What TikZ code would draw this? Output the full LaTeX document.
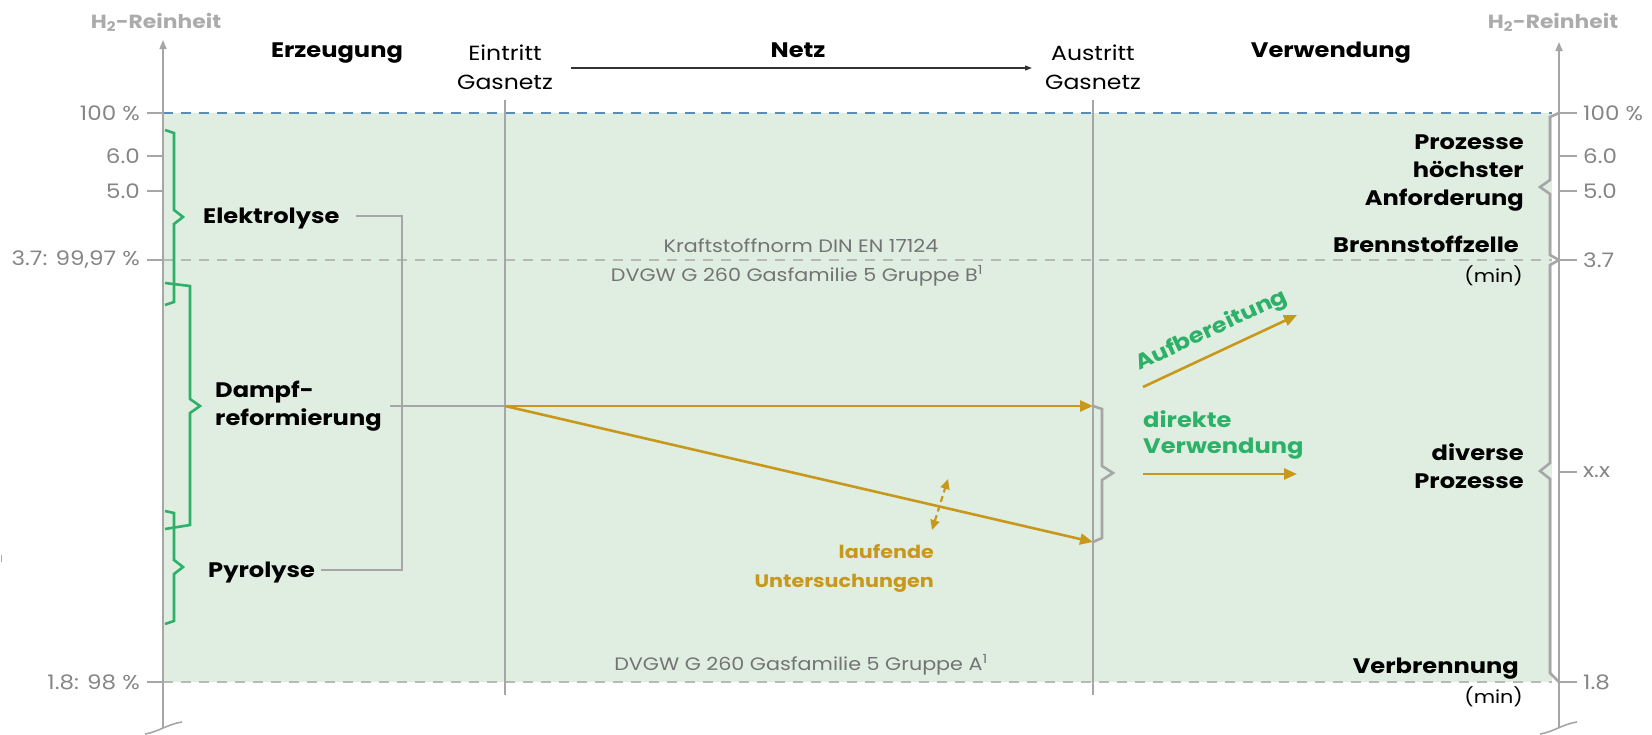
\documentclass[tikz,border=0pt]{standalone}
\usepackage{fontspec}
\setmainfont{Poppins}[FakeStretch=1.15]
\usetikzlibrary{arrows.meta}
\definecolor{zonegreen}{HTML}{E0EEE1}
\definecolor{bracegreen}{HTML}{2DB068}
\definecolor{flowgold}{HTML}{C8981C}
\definecolor{axisgray}{HTML}{A6A6A6}
\definecolor{ticktext}{HTML}{858585}
\definecolor{normtext}{HTML}{737373}
\definecolor{dashgray}{HTML}{B8B8B8}
\definecolor{topblue}{HTML}{5A8DB5}
\definecolor{titlegray}{HTML}{ABABAB}
\tikzset{
  axisline/.style={axisgray, line width=1.6},
  tickline/.style={axisgray, line width=1.4},
  levelline/.style={dashgray, line width=1.8, dash pattern=on 10pt off 8pt},
  gasline/.style={axisgray, line width=1.5},
  linkline/.style={axisgray, line width=1.4},
  greenbrace/.style={bracegreen, line width=2.6, line join=miter},
  graybrace/.style={axisgray, line width=2.6, line join=miter},
  flow/.style={flowgold, line width=2.6, -{Triangle[length=13pt, width=11pt]}},
  axistitle/.style={titlegray, font=\bfseries\fontsize{19}{22}\selectfont},
  ticklabel/.style={ticktext, font=\fontsize{20}{24}\selectfont, inner sep=0pt},
  colhead/.style={font=\bfseries\fontsize{21}{24}\selectfont, inner sep=0pt},
  gashead/.style={font=\fontsize{20.5}{29}\selectfont, align=center, inner sep=0pt},
  process/.style={font=\bfseries\fontsize{21}{28}\selectfont, inner sep=0pt},
  normlabel/.style={normtext, font=\fontsize{18}{20}\selectfont, inner sep=0pt},
  greenlabel/.style={bracegreen, font=\bfseries\fontsize{21}{26}\selectfont, inner sep=0pt},
  minlabel/.style={font=\fontsize{18}{22}\selectfont, inner sep=0pt},
}
\begin{document}
\begin{tikzpicture}[x=1pt, y=-1pt]
\useasboundingbox (0,0) rectangle (1652,734);

% purity band between 100 % and 1.8
\fill[zonegreen] (163,113) rectangle (1552,682);

% reference coordinates
\coordinate (Lbot) at (163,728);
\coordinate (Ltop) at (163,40);
\coordinate (Rbot) at (1559,728);
\coordinate (Rtop) at (1559,42);
\coordinate (inTop) at (505,100);
\coordinate (inBot) at (505,695);
\coordinate (outTop) at (1093,100);
\coordinate (outBot) at (1093,695);
\coordinate (inPt) at (505,406);
\coordinate (outHi) at (1093,406);
\coordinate (outLo) at (1093,542);

% level lines
\draw[topblue, line width=1.8, dash pattern=on 10pt off 8pt] (163,113) -- (1552,113);
\draw[levelline] (163,260) -- (1552,260);
\draw[levelline] (163,682) -- (1552,682);

% axes
\draw[axisline, -{Triangle[length=9pt, width=7pt]}] (Lbot) -- (Ltop);
\draw[axisline, -{Triangle[length=9pt, width=7pt]}] (Rbot) -- (Rtop);
\draw[axisline] (145,734) .. controls (158,732) and (168,724) .. (182,722);
\draw[axisline] (1540,734) .. controls (1553,732) and (1563,724) .. (1577,722);
\draw[axisgray, line width=1] (1,555) -- (1,562);

\node[axistitle, anchor=base] (titleL) at (156,28) {H\textsubscript{2}-Reinheit};
\node[axistitle, anchor=base] (titleR) at (1553,28) {H\textsubscript{2}-Reinheit};

% left scale
\foreach \yy/\txt/\nm in {113/100 \%/a, 156/6.0/b, 191/5.0/c, 260/{3.7: 99,97 \%}/d, 682/{1.8: 98 \%}/e}{
  \draw[tickline] (147,\yy) -- (163,\yy);
  \node[ticklabel, anchor=east] (tl\nm) at (140,\yy) {\txt};
}
% right scale
\foreach \yy/\txt/\nm in {113/100 \%/a, 156/6.0/b, 191/5.0/c, 260/3.7/d, 472/x.x/e, 682/1.8/f}{
  \draw[tickline] (1559,\yy) -- (1577,\yy);
  \node[ticklabel, anchor=west] (tr\nm) at (1583,\yy) {\txt};
}

% gas network entry and exit
\draw[gasline] (inTop) -- (inBot);
\draw[gasline] (outTop) -- (outBot);

% column headings
\node[colhead, anchor=base] (hErz) at (337,57) {Erzeugung};
\node[colhead, anchor=base] (hNetz) at (798,57) {Netz};
\node[colhead, anchor=base] (hVer) at (1331,57) {Verwendung};
\node[gashead, anchor=base] (hIn) at (505,89) {Eintritt\\Gasnetz};
\node[gashead, anchor=base] (hOut) at (1093,89) {Austritt\\Gasnetz};
\coordinate (netzA) at (571,68);
\coordinate (netzB) at (1032,68);
\draw[black!80, line width=1.2, -{Triangle[length=7pt, width=5pt]}] (netzA) -- (netzB);

% norm labels
\node[normlabel, anchor=base] (n1) at (801,252) {Kraftstoffnorm DIN EN 17124};
\node[normlabel, anchor=base] (n2) at (797,281) {DVGW G 260 Gasfamilie 5 Gruppe B\textsuperscript{1}};
\node[normlabel, anchor=base] (n3) at (801,670) {DVGW G 260 Gasfamilie 5 Gruppe A\textsuperscript{1}};

% production ranges
\draw[greenbrace] (165,130) -- (174,133) -- (174,210) -- (183,217) -- (174,224) -- (174,302) -- (165,305);
\draw[greenbrace] (165,283) -- (190,286) -- (190,399) -- (200,406) -- (190,413) -- (190,525) -- (165,529);
\draw[greenbrace] (165,511) -- (174,513) -- (174,560) -- (183,567) -- (174,574) -- (174,621) -- (165,624);

\node[process, anchor=base west] (elek) at (203,223) {Elektrolyse};
\node[process, anchor=base west, align=left] (dampf) at (215,425) {Dampf-\\reformierung};
\node[process, anchor=base west] (pyro) at (208,577) {Pyrolyse};

% production bracket into the network
\coordinate (bkTop) at (402,216);
\coordinate (bkBot) at (402,570);
\coordinate (bkMid) at (390,406);
\coordinate (elekEnd) at (356,216);
\coordinate (pyroEnd) at (321,570);
\draw[linkline] (elekEnd) -- (bkTop) -- (bkBot) -- (pyroEnd);
\draw[linkline] (bkMid) -- (inPt);

% flows through the network
\draw[flow] (inPt) -- (outHi);
\draw[flow] (inPt) -- (outLo);
\coordinate (invA) at (932,530);
\coordinate (invB) at (948,479);
\draw[flowgold, line width=2.2, dash pattern=on 6pt off 4pt, {Triangle[length=10pt, width=9pt]}-{Triangle[length=10pt, width=9pt]}] (invA) -- (invB);
\node[flowgold, font=\bfseries\fontsize{18}{29}\selectfont, inner sep=0pt, align=right, anchor=base east] (lauf) at (934,587) {laufende\\Untersuchungen};

% exit range
\draw[graybrace] (outHi) -- (1102,409) -- (1102,466) -- (1113,473) -- (1102,480) -- (1102,538) -- (outLo);

% treatment and direct use
\coordinate (aufA) at (1143,387);
\coordinate (aufB) at (1297,315);
\draw[flow] (aufA) -- (aufB);
\node[greenlabel, anchor=base, rotate=25] (auf) at (1214,336) {Aufbereitung};
\node[greenlabel, anchor=base west, align=left] (direkt) at (1143,453) {direkte\\Verwendung};
\coordinate (dirA) at (1143,474);
\coordinate (dirB) at (1297,474);
\draw[flow] (dirA) -- (dirB);

% use ranges
\draw[graybrace] (1559,113) -- (1550,117) -- (1550,180) -- (1540,187) -- (1550,194) -- (1550,255) -- (1559,260);
\draw[graybrace] (1559,260) -- (1550,265) -- (1550,463) -- (1540,471) -- (1550,479) -- (1550,673) -- (1559,682);

\node[process, anchor=base east, align=right] (hoch) at (1524,205) {Prozesse\\höchster\\Anforderung};
\node[process, anchor=base east] (bz) at (1519,252) {Brennstoffzelle};
\node[minlabel, anchor=base east] (bzmin) at (1523,282) {(min)};
\node[process, anchor=base east, align=right] (div) at (1524,488) {diverse\\Prozesse};
\node[process, anchor=base east] (verb) at (1519,673) {Verbrennung};
\node[minlabel, anchor=base east] (verbmin) at (1523,703) {(min)};
\end{tikzpicture}
\end{document}
